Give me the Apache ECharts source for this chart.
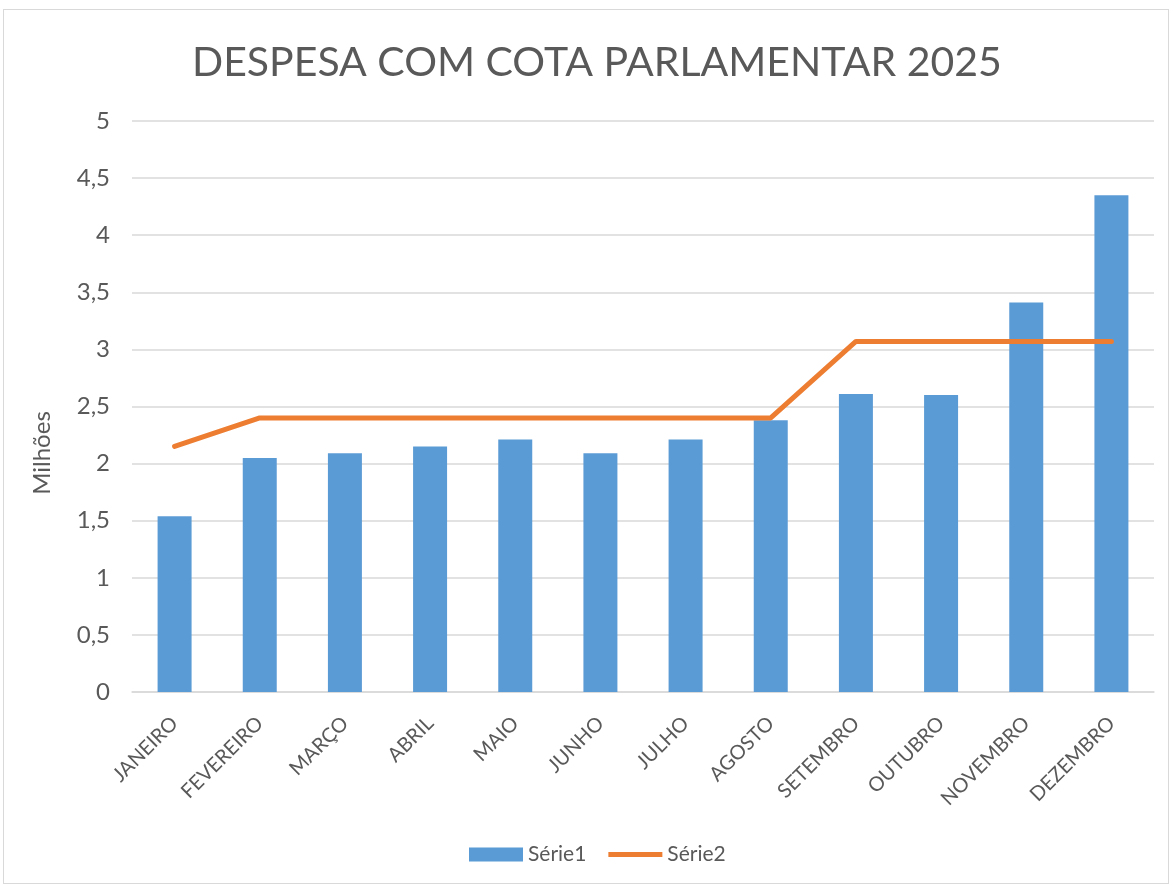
<!DOCTYPE html>
<html><head><meta charset="utf-8">
<script src="https://cdn.jsdelivr.net/npm/echarts@6/dist/echarts.min.js"></script>
<style>
html,body{margin:0;padding:0;background:#fff;}
#frame{position:absolute;left:3px;top:9px;width:1166px;height:875px;border:1px solid #D9D9D9;box-sizing:border-box;}
#c{position:absolute;left:0;top:0;width:1173px;height:887px;}
</style></head>
<body><div id="frame"></div><div id="c"></div>
<script>
const categories = ['JANEIRO','FEVEREIRO','MARÇO','ABRIL','MAIO','JUNHO','JULHO','AGOSTO','SETEMBRO','OUTUBRO','NOVEMBRO','DEZEMBRO'];
const serie1 = [1.54, 2.05, 2.09, 2.15, 2.21, 2.09, 2.21, 2.38, 2.61, 2.60, 3.41, 4.35];
const serie2 = [2.15, 2.40, 2.40, 2.40, 2.40, 2.40, 2.40, 2.40, 3.07, 3.07, 3.07, 3.07];
const yTicks = ['0','0,5','1','1,5','2','2,5','3','3,5','4','4,5','5'];
const FONT = 'Lato';
const chart = echarts.init(document.getElementById('c'), null, {renderer:'canvas'});
chart.setOption({
  animation:false,
  textStyle:{fontFamily:FONT},
  title:{text:'DESPESA COM COTA PARLAMENTAR 2025', left:187, top:37,
    textStyle:{fontFamily:FONT, fontSize:41, fontWeight:'normal', color:'#595959'}},
  grid:{left:132, right:19, top:121, bottom:195, containLabel:false},
  legend:{top:839, left:464, itemGap:22, itemWidth:54, itemHeight:14,
    textStyle:{fontFamily:FONT, fontSize:21, color:'#595959'},
    data:[{name:'Série1', icon:'rect'},{name:'Série2', icon:'path://M0,0L56,0L56,5L0,5Z'}]},
  graphic:[{type:'text', x:42, y:453, rotation:Math.PI/2,
    style:{text:'Milhões', fontFamily:FONT, fontSize:24, fill:'#595959', textAlign:'center', textVerticalAlign:'middle'}}],
  xAxis:{type:'category', data:categories,
    axisLine:{lineStyle:{color:'#D9D9D9', width:1.5}}, axisTick:{show:false},
    axisLabel:{rotate:45, interval:0, fontFamily:FONT, fontSize:20, color:'#595959', margin:28}},
  yAxis:{type:'value', min:0, max:5, interval:0.5,
    axisLine:{show:false}, axisTick:{show:false},
    splitLine:{lineStyle:{color:'#D9D9D9', width:1.5}},
    axisLabel:{fontFamily:FONT, fontSize:24, color:'#595959', margin:22,
      formatter:function(v){return yTicks[Math.round(v*2)];}}},
  series:[
    {name:'Série1', type:'bar', data:serie1, barWidth:34, itemStyle:{color:'#5B9BD5'}},
    {name:'Série2', type:'line', data:serie2, symbol:'none', lineStyle:{color:'#ED7D31', width:5, cap:'round'}, itemStyle:{color:'#ED7D31'}}
  ]
});
</script></body></html>
